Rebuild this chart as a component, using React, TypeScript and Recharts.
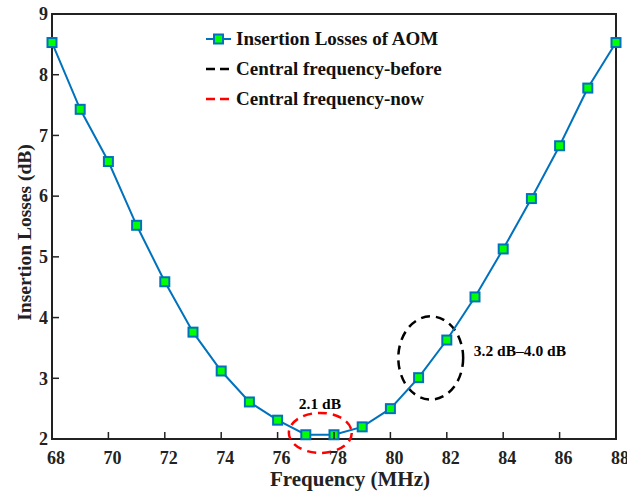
import { LineChart, Line, XAxis, YAxis, ReferenceArea, ReferenceDot } from "recharts"

const frequency = [68, 69, 70, 71, 72, 73, 74, 75, 76, 77, 78, 79, 80, 81, 82, 83, 84, 85, 86, 87, 88]
const losses = [8.53, 7.43, 6.57, 5.52, 4.59, 3.76, 3.12, 2.61, 2.31, 2.07, 2.07, 2.2, 2.5, 3.01, 3.63, 4.34, 5.13, 5.96, 6.83, 7.78, 8.53]
const xTicks = [68, 70, 72, 74, 76, 78, 80, 82, 84, 86, 88]
const yTicks = [2, 3, 4, 5, 6, 7, 8, 9]

// ellipse boxes [x1, x2, y1, y2]
const nowBox = [76.4, 78.63, 1.77, 2.43]
const beforeBox = [80.28, 82.58, 2.65, 4.02]

const legendItems = [
    { name: "Insertion Losses of AOM", color: "#0072BD", kind: "series" },
    { name: "Central frequency-before", color: "#000000", kind: "dash" },
    { name: "Central frequency-now", color: "#ff0000", kind: "dash" },
]

const data = frequency.map((f, i) => ({ f, loss: losses[i] }))

const FONT = "'Liberation Serif', 'Times New Roman', serif"
const BLUE = "#0072BD"
const AXIS = "#222"
const TICK_LEN = 7

const Square = (props: any) => {
    const { cx, cy, index } = props
    if (cx == null || cy == null) return null
    return <rect key={index} x={cx - 4.5} y={cy - 4.5} width={9} height={9} fill="#00ff00" stroke={BLUE} strokeWidth={2} />
}

const EllipseShape = (color: string) => (props: any) => {
    const { x, y, width, height } = props
    return (
        <ellipse
            cx={x + width / 2}
            cy={y + height / 2}
            rx={Math.abs(width) / 2}
            ry={Math.abs(height) / 2}
            fill="none"
            stroke={color}
            strokeWidth={2.5}
            strokeDasharray="9 6"
        />
    )
}

const FrameShape = (props: any) => {
    const { x, y, width, height } = props
    return <rect x={x} y={y} width={width} height={height} fill="none" stroke={AXIS} strokeWidth={2} />
}

const AnnoLabel = (text: string, anchor: "middle" | "start") => (props: any) => {
    const { viewBox } = props
    return (
        <text x={viewBox.cx ?? viewBox.x} y={viewBox.cy ?? viewBox.y} textAnchor={anchor} dominantBaseline="middle"
            fontFamily={FONT} fontWeight="bold" fontSize={15.5} fill="#000">
            {text}
        </text>
    )
}

const labelText = { fontFamily: FONT, fontWeight: "bold", fontSize: 18, fill: "#222" }

// tickMargin 12, tickSize 0 -> axis line sits 12px above the label anchor
const BottomTick = (props: any) => {
    const { x, y, payload } = props
    const axisY = y - 12
    return (
        <g>
            <line x1={x} y1={axisY} x2={x} y2={axisY - TICK_LEN} stroke={AXIS} strokeWidth={1.5} />
            <text x={x + 4} y={y} dy="0.72em" textAnchor="middle" style={labelText}>{payload.value}</text>
        </g>
    )
}

const LeftTick = (props: any) => {
    const { x, y, payload } = props
    const axisX = x + 4
    return (
        <g>
            <line x1={axisX} y1={y} x2={axisX + TICK_LEN} y2={y} stroke={AXIS} strokeWidth={1.5} />
            <text x={x} y={y} dy="0.35em" textAnchor="end" style={labelText}>{payload.value}</text>
        </g>
    )
}

const TopTick = (props: any) => {
    const { x, y } = props
    return <line x1={x} y1={y} x2={x} y2={y + TICK_LEN} stroke={AXIS} strokeWidth={1.5} />
}

const RightTick = (props: any) => {
    const { x, y } = props
    return <line x1={x} y1={y} x2={x - TICK_LEN} y2={y} stroke={AXIS} strokeWidth={1.5} />
}

const LegendBox = () => (
    <div style={{ position: "absolute", left: 205, top: 24, fontFamily: FONT, fontWeight: "bold", fontSize: 19, color: "#111" }}>
        {legendItems.map((item) => (
            <div key={item.name} style={{ display: "flex", alignItems: "center", height: 30, whiteSpace: "nowrap" }}>
                <svg width={27} height={14} style={{ marginRight: 4 }}>
                    {item.kind === "series" ? (
                        <>
                            <line x1={1} y1={7} x2={26} y2={7} stroke={item.color} strokeWidth={2} />
                            <rect x={9} y={2.5} width={9} height={9} fill="#00ff00" stroke={BLUE} strokeWidth={2} />
                        </>
                    ) : (
                        <line x1={1} y1={7} x2={26} y2={7} stroke={item.color} strokeWidth={2.5} strokeDasharray="9 5" />
                    )}
                </svg>
                <span>{item.name}</span>
            </div>
        ))}
    </div>
)

export default function App() {
    return (
        <div style={{ position: "fixed", left: 0, top: 0, width: 627, height: 492, background: "#fff" }}>
            <LineChart width={627} height={492} data={data} margin={{ top: 14, right: 11, left: 12, bottom: 23 }}>
                <XAxis
                    dataKey="f"
                    type="number"
                    domain={[68, 88]}
                    ticks={xTicks}
                    height={30}
                    tickSize={0}
                    tickMargin={12}
                    tick={BottomTick}
                    axisLine={false}
                    tickLine={false}
                    label={{ value: "Frequency (MHz)", position: "bottom", offset: 0, dx: 16, dy: 2, style: { fontFamily: FONT, fontWeight: "bold", fontSize: 21, fill: "#222" } }}
                />
                <XAxis
                    xAxisId="top"
                    dataKey="f"
                    type="number"
                    orientation="top"
                    domain={[68, 88]}
                    ticks={xTicks}
                    height={0}
                    tickSize={0}
                    tickMargin={0}
                    tick={TopTick}
                    axisLine={false}
                    tickLine={false}
                />
                <YAxis
                    type="number"
                    domain={[2, 9]}
                    ticks={yTicks}
                    width={40}
                    tickSize={0}
                    tickMargin={4}
                    tick={LeftTick}
                    axisLine={false}
                    tickLine={false}
                    label={{ value: "Insertion Losses (dB)", angle: -90, position: "insideLeft", offset: 0, dx: 12, dy: 6, style: { textAnchor: "middle", fontFamily: FONT, fontWeight: "bold", fontSize: 19.5, fill: "#222" } }}
                />
                <YAxis
                    yAxisId="right"
                    type="number"
                    orientation="right"
                    domain={[2, 9]}
                    ticks={yTicks}
                    width={0}
                    tickSize={0}
                    tickMargin={0}
                    tick={RightTick}
                    axisLine={false}
                    tickLine={false}
                />
                <ReferenceArea x1={68} x2={88} y1={2} y2={9} shape={FrameShape} />
                <Line
                    dataKey="loss"
                    stroke={BLUE}
                    strokeWidth={2}
                    dot={Square}
                    activeDot={false}
                    isAnimationActive={false}
                />
                <ReferenceArea x1={nowBox[0]} x2={nowBox[1]} y1={nowBox[2]} y2={nowBox[3]} ifOverflow="visible" shape={EllipseShape("#ff0000")} />
                <ReferenceArea x1={beforeBox[0]} x2={beforeBox[1]} y1={beforeBox[2]} y2={beforeBox[3]} ifOverflow="visible" shape={EllipseShape("#000000")} />
                <ReferenceDot x={77.5} y={2.56} r={0} ifOverflow="visible" label={AnnoLabel("2.1 dB", "middle")} />
                <ReferenceDot x={82.96} y={3.42} r={0} ifOverflow="visible" label={AnnoLabel("3.2 dB–4.0 dB", "start")} />
            </LineChart>
            <LegendBox />
        </div>
    )
}
